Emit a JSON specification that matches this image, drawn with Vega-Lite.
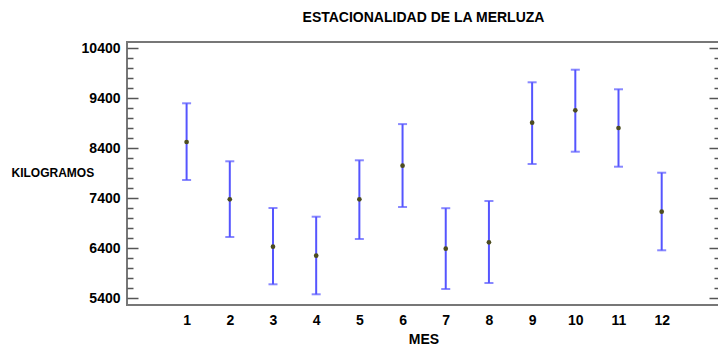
{
  "$schema": "https://vega.github.io/schema/vega-lite/v6.json",
  "width": 593,
  "height": 263,
  "autosize": {"type": "none"},
  "padding": {"left": 127, "top": 42, "right": 0, "bottom": 45},
  "background": "white",
  "title": {
    "text": "ESTACIONALIDAD DE LA MERLUZA",
    "font": "Liberation Sans",
    "fontSize": 14,
    "fontWeight": "bold",
    "color": "#000000",
    "anchor": "middle",
    "baseline": "alphabetic",
    "offset": 5
  },
  "config": {
    "view": {"stroke": "#777777", "strokeWidth": 2},
    "axis": {
      "grid": false,
      "domain": false,
      "labelFont": "Liberation Sans",
      "labelFontWeight": "bold",
      "labelFontSize": 14,
      "labelColor": "#000000",
      "titleFont": "Liberation Sans",
      "titleFontWeight": "bold",
      "titleColor": "#000000",
      "tickColor": "#555555",
      "tickWidth": 1.5
    }
  },
  "data": {
    "values": [
      {"mes": 1, "media": 8526, "lo": 7766, "hi": 9300},
      {"mes": 2, "media": 7380, "lo": 6626, "hi": 8140},
      {"mes": 3, "media": 6432, "lo": 5680, "hi": 7206},
      {"mes": 4, "media": 6252, "lo": 5480, "hi": 7032},
      {"mes": 5, "media": 7380, "lo": 6586, "hi": 8160},
      {"mes": 6, "media": 8052, "lo": 7226, "hi": 8884},
      {"mes": 7, "media": 6392, "lo": 5586, "hi": 7202},
      {"mes": 8, "media": 6520, "lo": 5706, "hi": 7346},
      {"mes": 9, "media": 8912, "lo": 8086, "hi": 9720},
      {"mes": 10, "media": 9160, "lo": 8332, "hi": 9972},
      {"mes": 11, "media": 8806, "lo": 8032, "hi": 9580},
      {"mes": 12, "media": 7132, "lo": 6360, "hi": 7912}
    ]
  },
  "encoding": {
    "x": {
      "field": "mes",
      "type": "quantitative",
      "scale": {"domain": [-0.38, 13.35], "nice": false, "zero": false},
      "axis": {
        "title": "MES",
        "titleFontSize": 14,
        "titlePadding": 5,
        "values": [1, 2, 3, 4, 5, 6, 7, 8, 9, 10, 11, 12],
        "format": "d",
        "ticks": false,
        "labelPadding": 8,
        "labelFlush": false
      }
    }
  },
  "layer": [
    {
      "mark": {"type": "rule", "color": "#5555ff", "strokeWidth": 2},
      "encoding": {
        "y": {
          "field": "lo",
          "type": "quantitative",
          "scale": {"domain": [5266, 10526], "nice": false, "zero": false},
          "axis": {
            "orient": "left",
            "values": [5400, 6400, 7400, 8400, 9400, 10400],
            "format": "d",
            "tickSize": -11,
            "labelPadding": 18,
            "title": "KILOGRAMOS",
            "titleFontSize": 12,
            "titleAngle": 0,
            "titleAlign": "left",
            "titleBaseline": "alphabetic",
            "titleX": -116,
            "titleY": 134
          }
        },
        "y2": {"field": "hi"}
      }
    },
    {
      "mark": {"type": "tick", "color": "#5555ff", "orient": "horizontal", "size": 9, "thickness": 2},
      "encoding": {
        "y": {
          "field": "hi",
          "type": "quantitative",
          "scale": {"domain": [5266, 10526], "nice": false, "zero": false},
          "axis": {
            "orient": "left",
            "values": [5600, 5800, 6000, 6200, 6600, 6800, 7000, 7200, 7600, 7800, 8000, 8200, 8600, 8800, 9000, 9200, 9600, 9800, 10000, 10200],
            "tickSize": -6,
            "labels": false,
            "title": null
          }
        }
      }
    },
    {
      "mark": {"type": "tick", "color": "#5555ff", "orient": "horizontal", "size": 9, "thickness": 2},
      "encoding": {
        "y": {
          "field": "lo",
          "type": "quantitative",
          "scale": {"domain": [5266, 10526], "nice": false, "zero": false},
          "axis": {
            "orient": "right",
            "values": [5400, 6400, 7400, 8400, 9400, 10400],
            "tickSize": -11,
            "labels": false,
            "title": null
          }
        }
      }
    },
    {
      "mark": {"type": "point", "filled": true, "color": "#4d4d1f", "size": 22, "opacity": 1},
      "encoding": {
        "y": {
          "field": "media",
          "type": "quantitative",
          "scale": {"domain": [5266, 10526], "nice": false, "zero": false},
          "axis": {
            "orient": "right",
            "values": [5600, 5800, 6000, 6200, 6600, 6800, 7000, 7200, 7600, 7800, 8000, 8200, 8600, 8800, 9000, 9200, 9600, 9800, 10000, 10200],
            "tickSize": -6,
            "labels": false,
            "title": null
          }
        }
      }
    }
  ],
  "resolve": {"axis": {"y": "independent"}}
}
